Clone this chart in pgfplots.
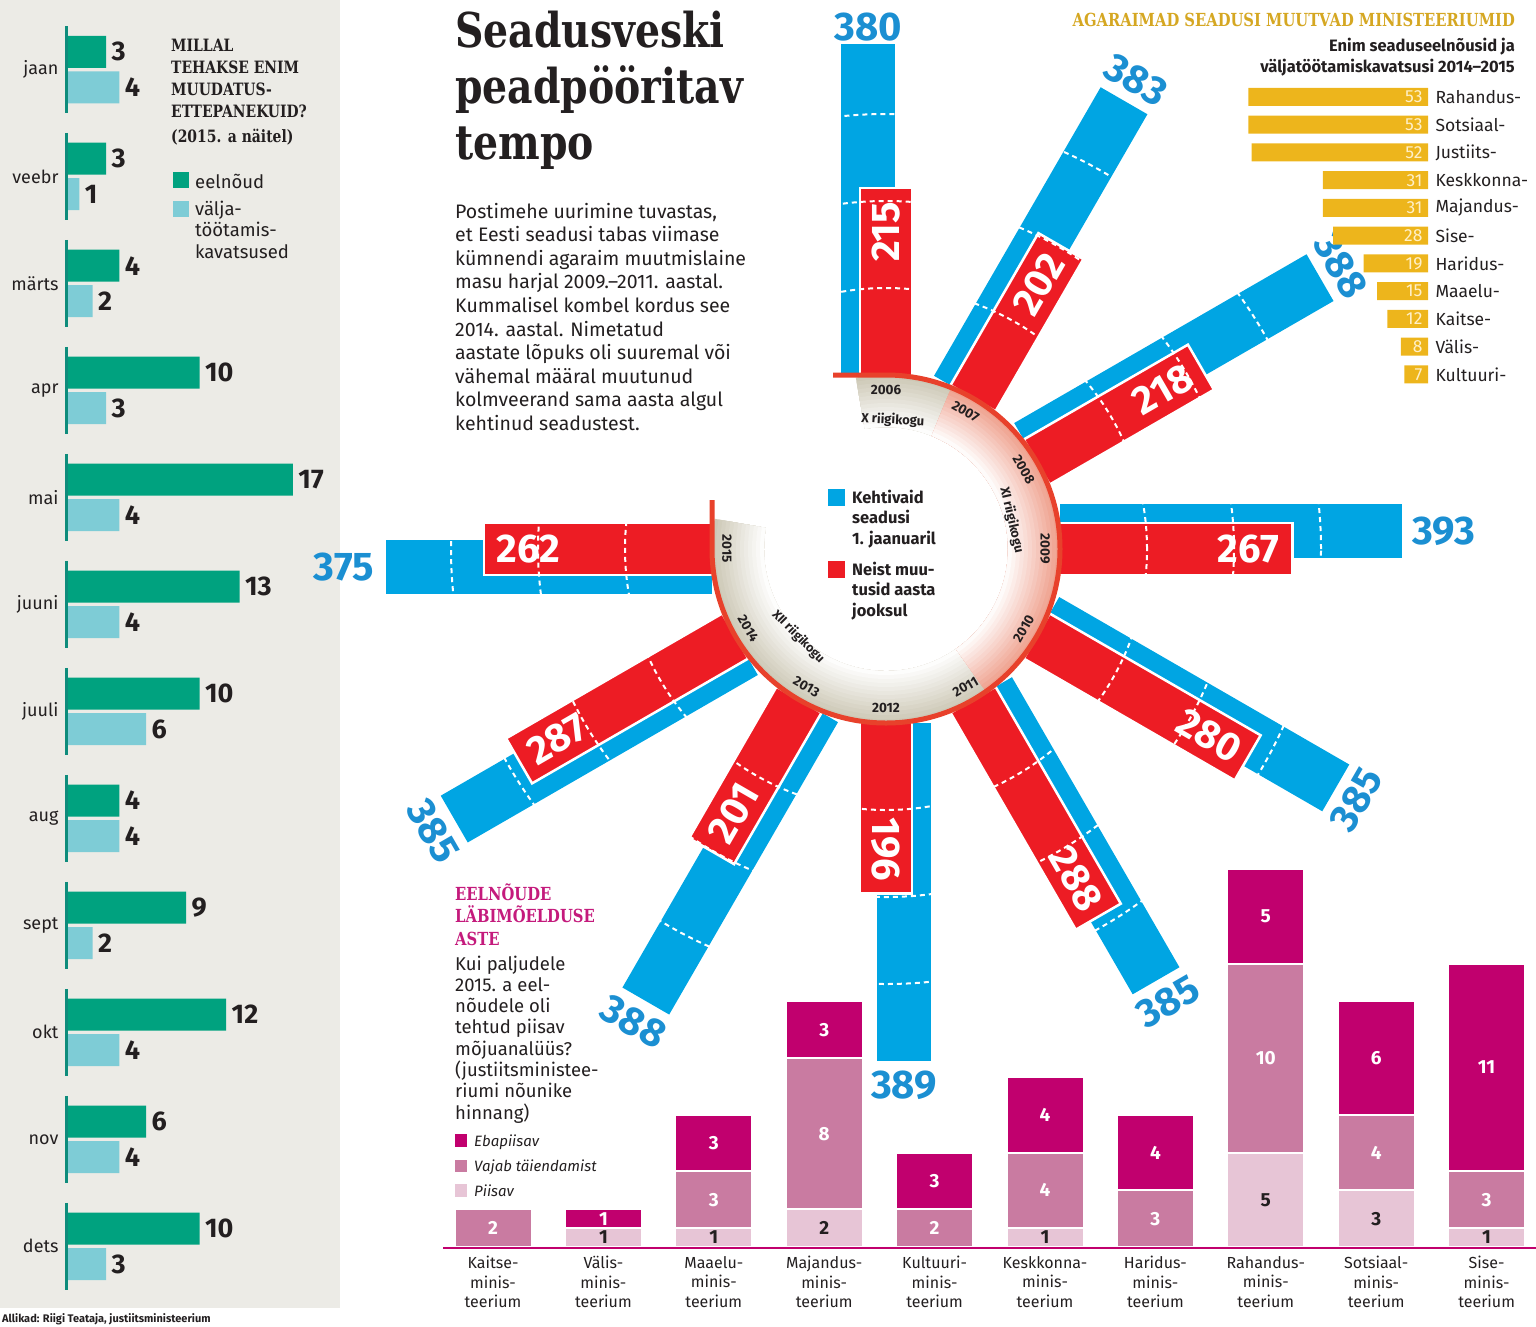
\documentclass[border=0pt]{standalone}
\usepackage{fontspec}
\setmainfont{Fira Sans}
\newfontfamily\slab{DejaVu Serif}[FakeStretch=0.82]
\usepackage{pgfplots}
\usepackage{pgfplotstable}
\pgfplotsset{compat=1.18, /pgf/number format/assume math mode=true}

\definecolor{panel}{HTML}{ECEBE6}
\definecolor{eeln}{HTML}{00A27F}
\definecolor{valja}{HTML}{7ECCD6}
\definecolor{tealline}{HTML}{0E8C7C}
\definecolor{kehtiv}{HTML}{00A5E3}
\definecolor{kehtivtxt}{HTML}{1B8FD2}
\definecolor{muut}{HTML}{ED1C24}
\definecolor{ringred}{HTML}{E8412B}
\definecolor{ringgray}{HTML}{CDC8B6}
\definecolor{ringpink}{HTML}{EFA08D}
\definecolor{kollane}{HTML}{EDB51C}
\definecolor{kolltitle}{HTML}{D5A722}
\definecolor{kreem}{HTML}{FFF0C8}
\definecolor{ebap}{HTML}{C1006E}
\definecolor{vajab}{HTML}{C97BA1}
\definecolor{piisav}{HTML}{E7C5D6}
\definecolor{magtitle}{HTML}{C41A7C}
\definecolor{tekst}{HTML}{231F20}

\newcommand{\fs}[1]{\fontsize{#1}{#1}\selectfont}
% lines of text: x, first baseline (px from top), line step, style, lines
\newcommand{\txtlines}[5]{%
  \foreach \txt [count=\i from 0] in {#5}{%
    \node[anchor=base west, inner sep=0pt, text=tekst, #4] at (#1pt,{-(#2+#3*\i)*1pt}) {\txt};}}
% stepped fade of the ring band: colour, start angle, end angle
\newcommand{\ringband}[3]{%
  \begin{scope}
    \clip ([shift={(#2:180pt)}]C) arc[start angle=#2, end angle=#3, radius=180pt]
      -- ([shift={(#3:122pt)}]C) arc[start angle=#3, end angle=#2, radius=122pt] -- cycle;
    \foreach \k in {0,...,12}{%
      \pgfmathsetmacro\rr{174-4*\k}\pgfmathsetmacro\pc{100-8*\k}%
      \fill[#1!\pc!white] (C) circle[radius=\rr pt];}
  \end{scope}}

\pgfplotsset{
  seg/.style n args={3}{fill=#1, draw=white, line width=2pt,
    visualization depends on={\thisrow{#2}\as\segv},
    nodes near coords={\ifdim\segv pt>0pt \pgfmathprintnumber{\segv}\fi},
    nodes near coords style={anchor=center, text=#3, font=\bfseries\fs{19}}},
  radbar/.style n args={3}{draw=none, nodes near coords={\relax},
    visualization depends on={\thisrow{ang}\as\ang},
    visualization depends on={\thisrow{#1}\as\len},
    nodes near coords style={anchor=west, rotate=\ang, minimum width={0.87pt*\len},
      minimum height=#2, inner sep=0pt, outer sep=0pt, #3}},
}

% muudatusettepanekud kuude kaupa (2015)
\pgfplotstableread{
idx kuu eel val
0 jaan 3 4
1 veebr 3 1
2 märts 4 2
3 apr 10 3
4 mai 17 4
5 juuni 13 4
6 juuli 10 6
7 aug 4 4
8 sept 9 2
9 okt 12 4
10 nov 6 4
11 dets 10 3
}\kuud

% kehtivad seadused ja muudetud seadused aastate kaupa
\pgfplotstableread{
year ang blue red rotb rotr offb
2006 90 380 215 0 90 17
2007 60 383 202 -30 60 24
2008 30 388 218 -60 30 24
2009 0 393 267 0 0 42
2010 -30 385 280 60 -30 24
2011 -60 385 288 30 -60 24
2012 -90 389 196 0 -90 24
2013 -120 388 201 -30 60 24
2014 -150 385 287 -60 30 24
2015 180 375 262 0 0 42
}\radial

% agaraimad ministeeriumid
\pgfplotstableread{
idx nimi v
0 Rahandus- 53
1 Sotsiaal- 53
2 Justiits- 52
3 Keskkonna- 31
4 Majandus- 31
5 Sise- 28
6 Haridus- 19
7 Maaelu- 15
8 Kaitse- 12
9 Välis- 8
10 Kultuuri- 7
}\agarad

% eelnõude läbimõeldus
\pgfplotstableread{
idx pi va eb
0 0 2 0
1 1 0 1
2 1 3 3
3 2 8 3
4 0 2 3
5 1 4 4
6 0 3 4
7 5 10 5
8 3 4 6
9 1 3 11
}\labi

\begin{document}
\begin{tikzpicture}
\useasboundingbox (0,0) rectangle (1536pt,-1326pt);
\fill[panel] (0,0) rectangle (340pt,-1308pt);
\coordinate (C) at (886pt,-549pt);

% ---- radial chart
\begin{axis}[at={(886pt,-549pt)}, anchor=center, x=1pt, y=1pt,
  xmin=-560, xmax=560, ymin=-560, ymax=560, hide axis, clip=false]
\addplot[radbar={blue}{54pt}{fill=kehtiv}]
  table[x expr={174*cos(\thisrow{ang})-18*sin(\thisrow{ang})},
        y expr={174*sin(\thisrow{ang})+18*cos(\thisrow{ang})}] {\radial};
\addplot[radbar={red}{52pt}{fill=muut, draw=white, line width=2.5pt}]
  table[x expr={174*cos(\thisrow{ang})}, y expr={174*sin(\thisrow{ang})}] {\radial};
\addplot[draw=none, point meta=explicit symbolic, nodes near coords={\pgfplotspointmeta},
  visualization depends on={\thisrow{rotb}\as\rot},
  nodes near coords style={anchor=center, rotate=\rot, text=kehtivtxt, font=\bfseries\fs{40}, inner sep=0pt}]
  table[x expr={(174+0.87*\thisrow{blue}+\thisrow{offb})*cos(\thisrow{ang})-18*sin(\thisrow{ang})},
        y expr={(174+0.87*\thisrow{blue}+\thisrow{offb})*sin(\thisrow{ang})+18*cos(\thisrow{ang})},
        meta=blue] {\radial};
\addplot[draw=none, point meta=explicit symbolic, nodes near coords={\pgfplotspointmeta},
  visualization depends on={\thisrow{rotr}\as\rot},
  nodes near coords style={anchor=center, rotate=\rot, text=white, font=\bfseries\fs{40}, inner sep=0pt}]
  table[x expr={(174+0.87*\thisrow{red}-44)*cos(\thisrow{ang})},
        y expr={(174+0.87*\thisrow{red}-44)*sin(\thisrow{ang})},
        meta=red] {\radial};
\end{axis}

% 100-step marks across the bars
\foreach \r in {261,348,435}
  \draw[white, line width=2pt, dash pattern=on 5pt off 4pt] (C) circle[radius=\r pt];

% ring
\ringband{ringgray}{100}{-190}
\ringband{ringpink}{68}{-55}
\draw[ringred, line width=5pt] ([shift={(-53pt,174pt)}]C) -- ([shift={(0pt,174pt)}]C)
  arc[start angle=90, end angle=-180, radius=174pt] -- ++(0pt,49pt);
\foreach \yr/\a/\rt in {2006/90/0, 2007/60/-30, 2008/30/-60, 2009/0/-90, 2010/-30/60,
  2011/-60/30, 2012/-90/0, 2013/-120/-30, 2014/-150/-60, 2015/180/-90}
  \node[rotate=\rt, font=\bfseries\fs{13.5}, text=tekst, inner sep=0pt] at ([shift={(\a:159pt)}]C) {\yr};
\node[rotate=-3, font=\bfseries\fs{13}, text=tekst, inner sep=0pt] at ([shift={(87:129pt)}]C) {X riigikogu};
\node[rotate=-77, font=\bfseries\fs{13}, text=tekst, inner sep=0pt] at ([shift={(13:129pt)}]C) {XI riigikogu};
\node[rotate=-45, font=\bfseries\fs{12.5}, text=tekst, inner sep=0pt] at ([shift={(-135:124pt)}]C) {XII riigikogu};

\fill[kehtiv] (828pt,-489pt) rectangle (845pt,-506pt);
\fill[muut] (828pt,-561pt) rectangle (845pt,-578pt);
\txtlines{852}{503}{20.5}{font=\bfseries\fs{16.5}}{Kehtivaid, seadusi, 1. jaanuaril}
\txtlines{852}{575}{20.5}{font=\bfseries\fs{16.5}}{Neist muu-, tusid aasta, jooksul}

% ---- left panel: months
\begin{axis}[at={(66pt,-16pt)}, anchor=north west, x=13.35pt, y=106.98pt, y dir=reverse,
  xmin=0, xmax=20, ymin=-0.5, ymax=11.5, xbar, bar width=32pt,
  axis line style={draw=none}, major tick length=0pt, xtick=\empty,
  ytick={0,...,11}, yticklabels from table={\kuud}{kuu},
  yticklabel style={font=\fs{18}, text=tekst, xshift=-4pt},
  nodes near coords, nodes near coords style={font=\bfseries\fs{27}, text=tekst, anchor=west, xshift=2pt},
  clip=false]
\addplot[fill=eeln, draw=none, bar shift=17.75pt] table[x=eel, y=idx] {\kuud};
\addplot[fill=valja, draw=none, bar shift=-17.75pt] table[x=val, y=idx] {\kuud};
\pgfplotsinvokeforeach{0,...,11}{\draw[tealline, line width=3pt] (axis cs:0,#1) ++(0pt,43.5pt) -- ++(0pt,-87pt);}
\end{axis}

\txtlines{171}{51}{22}{font=\slab\bfseries\fs{17}}{MILLAL, TEHAKSE ENIM, MUUDATUS-, ETTEPANEKUID?}
\txtlines{171}{142}{22}{font=\slab\bfseries\fs{17}}{{(2015. a näitel)}}
\fill[eeln] (173pt,-172pt) rectangle (189pt,-188pt);
\fill[valja] (173pt,-201pt) rectangle (189pt,-217pt);
\txtlines{195}{188}{21.5}{font=\fs{18.5}}{eelnõud}
\txtlines{195}{215}{21.5}{font=\fs{18.5}}{välja-, töötamis-, kavatsused}

% ---- title and story
\txtlines{455}{47}{56}{font=\slab\bfseries\fs{48}}{Seadusveski, peadpööritav, tempo}
\txtlines{455}{218}{23.6}{font=\fs{19.5}}{{Postimehe uurimine tuvastas,}, et Eesti seadusi tabas viimase,
  kümnendi agaraim muutmislaine, masu harjal 2009.–2011. aastal., Kummalisel kombel kordus see,
  2014. aastal. Nimetatud, aastate lõpuks oli suuremal või, vähemal määral muutunud,
  kolmveerand sama aasta algul, kehtinud seadustest.}

% ---- top right: ministries
\node[anchor=base east, inner sep=0pt, font=\slab\bfseries\fs{18}, text=kolltitle] at (1515pt,-26pt) {AGARAIMAD SEADUSI MUUTVAD MINISTEERIUMID};
\node[anchor=base east, inner sep=0pt, font=\bfseries\fs{16.5}, text=tekst] at (1515pt,-51pt) {Enim seaduseelnõusid ja};
\node[anchor=base east, inner sep=0pt, font=\bfseries\fs{16.5}, text=tekst] at (1515pt,-72pt) {väljatöötamiskavatsusi 2014–2015};

\begin{axis}[at={(1428pt,-83.1pt)}, anchor=north east, x=3.39pt, y=27.75pt, x dir=reverse, y dir=reverse,
  xmin=0, xmax=60, ymin=-0.5, ymax=10.5, hide axis, xbar, bar width=18pt, clip=false]
\addplot[fill=kollane, draw=none, bar shift=0pt] table[x=v, y=idx] {\agarad};
\addplot[draw=none, bar shift=0pt, point meta=explicit symbolic, nodes near coords={\pgfplotspointmeta},
  nodes near coords style={anchor=east, xshift=-2pt, text=kreem, font=\fs{17.5}}]
  table[x expr=0, y=idx, meta=v] {\agarad};
\addplot[draw=none, bar shift=0pt, point meta=explicit symbolic, nodes near coords={\pgfplotspointmeta},
  nodes near coords style={anchor=west, xshift=4pt, text=tekst, font=\fs{17.5}}]
  table[x expr=0, y=idx, meta=nimi] {\agarad};
\end{axis}

% ---- bottom: stacked bars
\txtlines{455}{900}{22.5}{font=\slab\bfseries\fs{18}, text=magtitle}{EELNÕUDE, LÄBIMÕELDUSE, ASTE}
\txtlines{455}{970}{21.3}{font=\fs{18.5}}{Kui paljudele, 2015. a eel-, nõudele oli, tehtud piisav,
  mõjuanalüüs?, {(justiitsministee-}, riumi nõunike, {hinnang)}}
\fill[ebap] (455pt,-1134pt) rectangle (467pt,-1147pt);
\fill[vajab] (455pt,-1160pt) rectangle (467pt,-1172pt);
\fill[piisav] (455pt,-1184pt) rectangle (467pt,-1197pt);
\txtlines{474}{1146}{25}{font=\itshape\fs{15}}{Ebapiisav, Vajab täiendamist, Piisav}

\begin{axis}[at={(437.8pt,-1247pt)}, anchor=south west, x=110.4pt, y=18.9pt,
  xmin=-0.5, xmax=9.5, ymin=0, ymax=21, ybar stacked, bar width=77pt,
  axis line style={draw=none}, major tick length=0pt, ytick=\empty, xtick={0,...,9},
  xticklabels={{Kaitse-\\minis-\\teerium},{Välis-\\minis-\\teerium},{Maaelu-\\minis-\\teerium},
    {Majandus-\\minis-\\teerium},{Kultuuri-\\minis-\\teerium},{Keskkonna-\\minis-\\teerium},
    {Haridus-\\minis-\\teerium},{Rahandus-\\minis-\\teerium},{Sotsiaal-\\minis-\\teerium},
    {Sise-\\minis-\\teerium}},
  xticklabel style={align=center, font=\fontsize{16}{19.5}\selectfont, text=tekst, anchor=north, yshift=-9pt, inner sep=0pt},
  clip=false]
\addplot[seg={piisav}{pi}{tekst}] table[x=idx, y=pi] {\labi};
\addplot[seg={vajab}{va}{white}] table[x=idx, y=va] {\labi};
\addplot[seg={ebap}{eb}{white}] table[x=idx, y=eb] {\labi};
\end{axis}
\draw[ebap, line width=2.5pt] (443pt,-1248pt) -- (1536pt,-1248pt);

\node[anchor=base west, inner sep=0pt, font=\bfseries\fs{11}, text=tekst] at (2pt,-1322pt) {Allikad: Riigi Teataja, justiitsministeerium};
\end{tikzpicture}
\end{document}
